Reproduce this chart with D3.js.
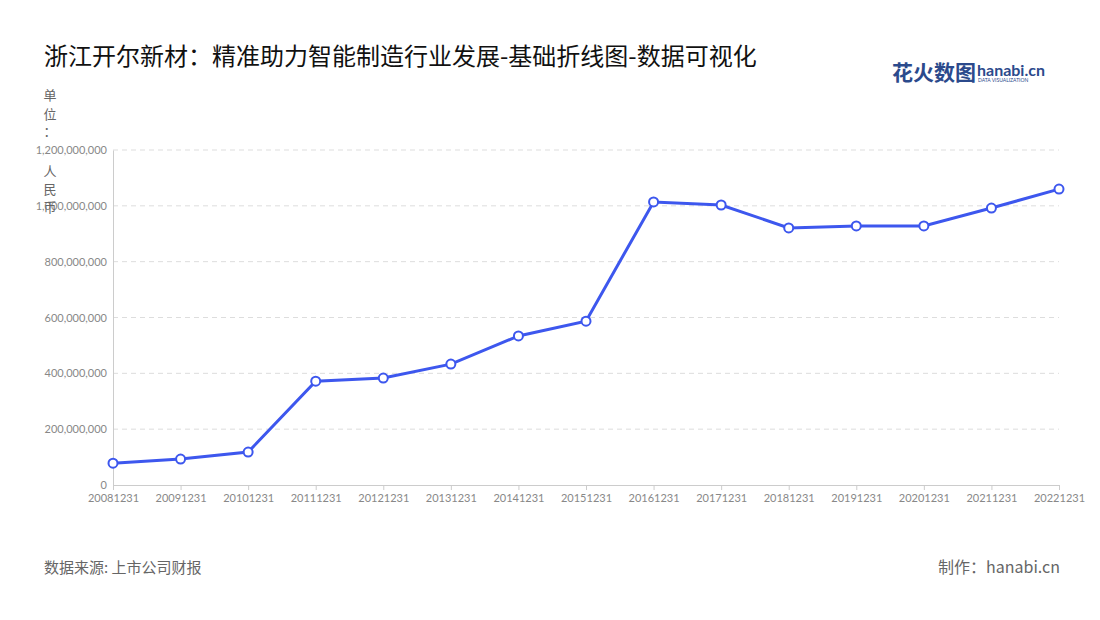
<!DOCTYPE html>
<html><head><meta charset="utf-8">
<script src="https://cdn.jsdelivr.net/npm/d3@7"></script>
<style>body{margin:0;background:#fff;font-family:"Noto Sans CJK SC","Noto Sans",sans-serif}</style>
</head><body><svg id="c" width="1100" height="620"></svg>
<script>
const categories=["20081231","20091231","20101231","20111231","20121231","20131231","20141231","20151231","20161231","20171231","20181231","20191231","20201231","20211231","20221231"];
const values=[78000000,93000000,118000000,372000000,383000000,433000000,534000000,587000000,1014000000,1003000000,921000000,928000000,928000000,992000000,1060000000];
const yTicks=[0,200000000,400000000,600000000,800000000,1000000000,1200000000];
const unitChars=["单","位","：","人","民","币"];

const svg=d3.select("#c");
const x=d3.scalePoint().domain(categories).range([113,1059]);
const y=d3.scaleLinear().domain([0,1200000000]).range([485,150]);
const font='"Noto Sans CJK SC","Noto Sans",sans-serif';

svg.append("text").attr("x",44).attr("y",65).attr("font-size",24).attr("fill","#111").attr("font-family",font)
 .text("浙江开尔新材：精准助力智能制造行业发展-基础折线图-数据可视化");

// logo
svg.append("text").attr("x",892).attr("y",80).attr("font-size",21).attr("font-weight","bold").attr("fill","#2b4a8c").attr("font-family",font).text("花火数图");
svg.append("text").attr("x",977).attr("y",76).attr("font-size",16).attr("font-weight","bold").attr("fill","#2b4a8c").attr("font-family","Lato,sans-serif").text("hanabi.cn");
svg.append("text").attr("x",978).attr("y",82).attr("font-size",5).attr("fill","#2b4a8c").attr("font-family","Lato,sans-serif").text("DATA VISUALIZATION");

// grid
svg.append("g").selectAll("line").data(yTicks.slice(1)).join("line")
 .attr("x1",113).attr("x2",1059).attr("y1",d=>y(d)).attr("y2",d=>y(d))
 .attr("stroke","#ddd").attr("stroke-dasharray","5,4");

const ya=svg.append("g").attr("transform","translate(113,0)")
 .call(d3.axisLeft(y).tickValues(yTicks).tickFormat(d3.format(",")).tickSize(0).tickPadding(6));
ya.select(".domain").attr("stroke","#ccc");
ya.selectAll("text").attr("fill","#888").attr("font-size",11).attr("font-family","Lato,sans-serif");

const xa=svg.append("g").attr("transform","translate(0,485)")
 .call(d3.axisBottom(x).tickSize(5).tickPadding(4));
xa.select(".domain").attr("stroke","#ccc");
xa.selectAll("line").attr("stroke","#ccc");
xa.selectAll("text").attr("fill","#888").attr("font-size",11).attr("font-family","Lato,sans-serif");

// unit label
const uy=[100,119,136,176,194,212];
svg.append("g").selectAll("text").data(unitChars).join("text")
 .attr("x",50).attr("y",(d,i)=>uy[i]).attr("text-anchor","middle").attr("font-size",13).attr("fill","#666").attr("font-family",font).text(d=>d);

svg.append("path").datum(values)
 .attr("d",d3.line().x((d,i)=>x(categories[i])).y(d=>y(d)))
 .attr("fill","none").attr("stroke","#3d57ee").attr("stroke-width",3);
svg.append("g").selectAll("circle").data(values).join("circle")
 .attr("cx",(d,i)=>x(categories[i])).attr("cy",d=>y(d)).attr("r",4.5)
 .attr("fill","#fff").attr("stroke","#3d57ee").attr("stroke-width",2);

svg.append("text").attr("x",44).attr("y",573).attr("font-size",15).attr("fill","#666").attr("font-family",font).text("数据来源: 上市公司财报");
svg.append("text").attr("x",1060).attr("y",573).attr("text-anchor","end").attr("font-size",16).attr("fill","#666").attr("font-family",font).text("制作：hanabi.cn");
</script></body></html>
